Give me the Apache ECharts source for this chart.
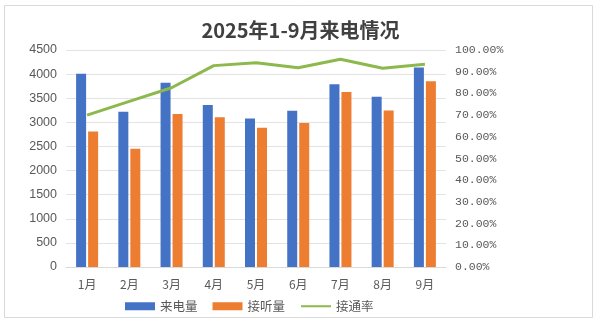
<!DOCTYPE html>
<html>
<head>
<meta charset="utf-8">
<script src="https://cdn.jsdelivr.net/npm/echarts@6/dist/echarts.min.js"></script>
<style>
  html, body { margin: 0; padding: 0; background: #fff; }
  #chart { width: 601px; height: 326px; }
</style>
</head>
<body>
<div id="chart"></div>
<script>
// Monthly call statistics, Jan–Sep 2025
const months = ['1月', '2月', '3月', '4月', '5月', '6月', '7月', '8月', '9月'];
const incomingCalls = [4010, 3220, 3820, 3360, 3080, 3240, 3790, 3530, 4135];
const answeredCalls = [2810, 2450, 3175, 3105, 2890, 2985, 3630, 3245, 3850];
const answerRate = [0.700, 0.763, 0.826, 0.928, 0.941, 0.918, 0.957, 0.916, 0.934];

const chart = echarts.init(document.getElementById('chart'), null, { renderer: 'canvas' });

chart.setOption({
  animation: false,
  backgroundColor: '#fff',
  title: {
    text: '2025年1-9月来电情况',
    left: 'center',
    top: 15,
    textStyle: {
      fontFamily: 'Noto Sans CJK SC',
      fontSize: 20,
      fontWeight: 'bold',
      color: '#404040'
    }
  },
  graphic: [{
    type: 'rect',
    shape: { x: 4.5, y: 5.5, width: 588, height: 312 },
    style: { fill: 'none', stroke: '#d9d9d9', lineWidth: 1 },
    silent: true,
    z: -1
  }],
  legend: {
    left: 120,
    top: 295,
    itemWidth: 30,
    itemHeight: 8,
    itemGap: 15,
    textStyle: { fontFamily: 'Noto Sans CJK SC', fontSize: 12.5, color: '#595959' },
    data: [
      { name: '来电量', icon: 'rect' },
      { name: '接听量', icon: 'rect' },
      { name: '接通率', itemStyle: { opacity: 0 } }
    ]
  },
  grid: { left: 66, right: 155, top: 50, bottom: 59 },
  xAxis: {
    type: 'category',
    data: months,
    axisTick: { show: false },
    axisLine: { lineStyle: { color: '#d9d9d9', width: 1 } },
    axisLabel: {
      margin: 11,
      fontFamily: 'Noto Sans CJK SC',
      fontSize: 12,
      color: '#595959'
    }
  },
  yAxis: [{
    type: 'value',
    min: 0,
    max: 4500,
    interval: 500,
    axisLine: { show: false },
    axisTick: { show: false },
    splitLine: { lineStyle: { color: '#e3e3e3', width: 1 } },
    axisLabel: {
      margin: 9,
      fontFamily: 'Liberation Sans',
      fontSize: 12.5,
      color: '#595959',
      formatter: v => String(v)
    }
  }, {
    type: 'value',
    min: 0,
    max: 1,
    interval: 0.1,
    axisLine: { show: false },
    axisTick: { show: false },
    splitLine: { show: false },
    axisLabel: {
      margin: 9,
      fontFamily: 'Liberation Mono',
      fontSize: 11.5,
      color: '#595959',
      formatter: v => (v * 100).toFixed(2) + '%'
    }
  }],
  series: [{
    name: '来电量',
    type: 'bar',
    data: incomingCalls,
    barWidth: 10,
    barGap: '20%',
    itemStyle: { color: '#4472C4' }
  }, {
    name: '接听量',
    type: 'bar',
    data: answeredCalls,
    barWidth: 10,
    itemStyle: { color: '#ED7D31' }
  }, {
    name: '接通率',
    type: 'line',
    yAxisIndex: 1,
    data: answerRate,
    symbol: 'none',
    lineStyle: { color: '#8CB84C', width: 3 },
    itemStyle: { color: '#8CB84C' }
  }]
});
</script>
</body>
</html>
